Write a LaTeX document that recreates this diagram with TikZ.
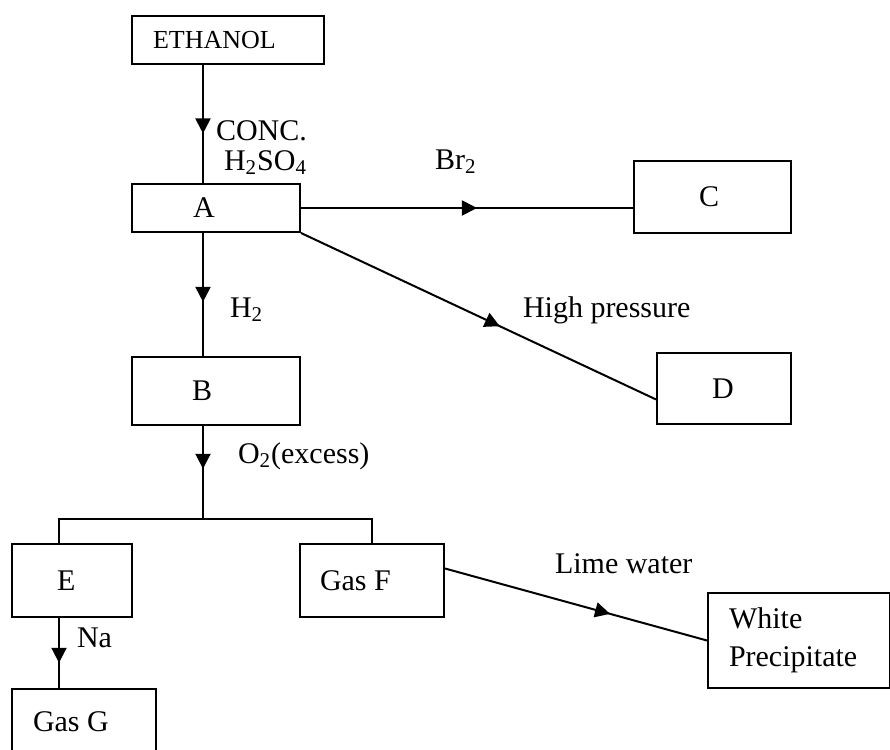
\documentclass[tikz,border=0pt]{standalone}
\usepackage{fontspec}
\setmainfont{Liberation Serif}
\usetikzlibrary{arrows.meta,calc,decorations.markings}

\tikzset{
  box/.style n args={4}{draw, anchor=north west, minimum width=#1, minimum height=#2,
    inner xsep=#3, inner ysep=0pt, text width=#4, align=left},
  tag/.style={anchor=base west, inner sep=0pt},
  flow/.style={postaction={decorate}, decoration={markings,
    mark=at position #1 with {\arrow{Triangle[length=7.5pt,width=7.5pt]}}}}
}

\begin{document}
\begin{tikzpicture}[x=0.5pt, y=-0.5pt, line width=1pt, font=\fontsize{15pt}{19pt}\selectfont]
    \useasboundingbox (0,0) rectangle (890,750);

    \node[box={96pt}{24pt}{10.5pt}{75pt}, font=\fontsize{13pt}{15pt}\selectfont] (ethanol) at (131,15) {ETHANOL};
    \node[box={84pt}{24pt}{30.5pt}{23pt}] (A) at (131,183) {A};
    \node[box={78.5pt}{36pt}{32.5pt}{13.5pt}] (C) at (633,160) {C};
    \node[box={67pt}{35.5pt}{27.5pt}{12pt}] (D) at (656,352) {D};
    \node[box={84pt}{34pt}{30pt}{24pt}] (B) at (131,356) {B};
    \node[box={60pt}{36.5pt}{22.5pt}{15pt}] (E) at (11,543) {E};
    \node[box={72pt}{36.5pt}{10pt}{52pt}] (gasF) at (299,543) {\spaceskip=0pt Gas F};
    \node[box={72pt}{33pt}{10.5pt}{51pt}] (gasG) at (11,688) {\spaceskip=0pt Gas G};
    \node[box={91pt}{47.5pt}{10.5pt}{70pt}] (white) at (707,592) {White\\Precipitate};

    \coordinate (trunk) at (203,0);
    \coordinate (fork) at (203,519);
    \coordinate (split) at (59,519);

    \node[tag] (conc) at (215,140) {CONC.};
    \node[tag] (acid) at (223,170) {H\textsubscript{2}SO\textsubscript{4}};
    \node[tag] (bromine) at (434,169) {Br\textsubscript{2}};
    \node[tag] (pressure) at (522,317) {High pressure};
    \node[tag] (hydrogen) at (229,317) {H\textsubscript{2}};
    \node[tag] (oxygen) at (237,463) {O\textsubscript{2}(excess)};
    \node[tag] (sodium) at (76,647) {Na};
    \node[tag] (lime) at (554,573) {Lime water};

    \draw[flow=0.58] (ethanol.south -| trunk) -- (A.north -| trunk);
    \draw[flow=0.53] (A.east) -- (A.east -| C.west);
    \draw[flow=0.56] (A.south east) -- ($(D.south west)!0.35!(D.north west)$);
    \draw[flow=0.56] (A.south -| trunk) -- (B.north -| trunk);
    \draw[flow=0.46] (B.south -| trunk) -- (fork);
    \draw (E.north -| split) -- (split) -- (fork) -| (gasF.north);
    \draw[flow=0.64] (E.south -| split) -- (gasG.north -| split);
    \draw[flow=0.63] ($(gasF.north east)!0.34!(gasF.south east)$) -- (white.west);
\end{tikzpicture}
\end{document}
